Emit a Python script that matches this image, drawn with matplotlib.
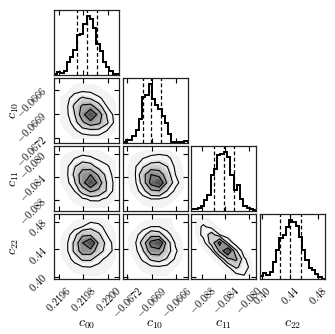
import numpy as np
import matplotlib
matplotlib.use('Agg')
import matplotlib.pyplot as plt
from matplotlib.colors import LinearSegmentedColormap

plt.rcParams['mathtext.fontset'] = 'cm'
plt.rcParams['font.family'] = 'serif'
plt.rcParams['font.serif'] = ['DejaVu Serif']

# parameters
labels = [r'$c_{00}$', r'$c_{10}$', r'$c_{11}$', r'$c_{22}$']
ranges = [(0.21956, 0.22009), (-0.067256, -0.066459), (-0.08989, -0.07868), (0.3965, 0.4906)]
tick_vals = [[0.2196, 0.2198, 0.2200], [-0.0672, -0.0669, -0.0666],
             [-0.088, -0.084, -0.080], [0.40, 0.44, 0.48]]
tick_text = [['0.2196', '0.2198', '0.2200'], ['-0.0672', '-0.0669', '-0.0666'],
             ['-0.088', '-0.084', '-0.080'], ['0.40', '0.44', '0.48']]

# 1D marginal histograms (20 bins over the range)
hist_c00 = [2, 4, 3, 6, 22, 30, 42, 68, 70, 86, 100, 94, 80, 52, 40, 22, 13, 7, 2, 1]
hist_c10 = [2, 5, 5, 12, 22, 40, 78, 82, 100, 75, 65, 58, 45, 33, 15, 2, 1, 1, 1, 3]
hist_c11 = [4, 4, 5, 9, 19, 27, 62, 72, 95, 97, 100, 92, 62, 36, 45, 21, 9, 5, 3, 2]
hist_c22 = [6, 11, 8, 13, 30, 50, 70, 75, 89, 100, 97, 90, 72, 50, 33, 19, 15, 9, 3, 1]
hists = [hist_c00, hist_c10, hist_c11, hist_c22]

# 16/50/84 quantiles
quant_c00 = [0.219745, 0.219827, 0.219913]
quant_c10 = [-0.067006, -0.066904, -0.066791]
quant_c11 = [-0.08601, -0.08429, -0.08258]
quant_c22 = [0.4256, 0.4401, 0.4557]
quants = [quant_c00, quant_c10, quant_c11, quant_c22]

# 2D densities, 8x8 cells, rows listed from top (high y) to bottom
dens_c10_c00 = [
    [0, 0, 0, 0, 0, 0, 0, 0],
    [0, 0, 0.3, 0.5, 0.4, 0.2, 0, 0],
    [0, 0.3, 1.5, 2.5, 2, 1, 0.4, 0],
    [0, 0.4, 2.5, 5, 5.5, 3, 0.8, 0.2],
    [0, 0.4, 2, 6, 10, 6, 2, 0.3],
    [0, 0.3, 1.2, 4, 6, 5, 2.5, 0.4],
    [0, 0.1, 0.6, 1.2, 1.5, 1.5, 0.8, 0.1],
    [0, 0, 0.1, 0.2, 0.2, 0.2, 0.1, 0],
]
dens_c11_c00 = [
    [0, 0, 0.1, 0.2, 0.2, 0.1, 0, 0],
    [0, 0.2, 0.8, 1.2, 1, 0.6, 0.2, 0],
    [0, 0.4, 2, 3.5, 3, 1.5, 1.0, 0.2],
    [0, 0.4, 2.5, 6, 7, 4, 1.5, 0.3],
    [0, 0.3, 1.8, 6, 10, 6, 2, 0.4],
    [0, 0.1, 0.8, 3, 5, 4, 2, 0.3],
    [0, 0, 0.2, 0.6, 1, 1, 0.6, 0.1],
    [0, 0, 0, 0.1, 0.1, 0.2, 0.1, 0],
]
dens_c11_c10 = [
    [0, 0, 0, 0.1, 0.1, 0.1, 0, 0],
    [0, 0.2, 0.8, 1.2, 1.5, 1.2, 0.2, 0],
    [0, 0.6, 2, 3, 3, 2.2, 0.5, 0],
    [0, 0.6, 3.5, 7, 6, 3, 0.8, 0.1],
    [0, 0.4, 3, 8, 10, 4, 1.2, 0.2],
    [0, 0.2, 1.5, 4, 4.5, 2, 0.5, 0],
    [0, 0, 0.3, 0.8, 0.8, 0.4, 0.1, 0],
    [0, 0, 0, 0.1, 0.2, 0, 0, 0],
]
dens_c22_c00 = [
    [0, 0, 0, 0.1, 0.2, 0.1, 0, 0],
    [0, 0, 0.3, 0.8, 1.5, 1.2, 0.3, 0],
    [0, 0.2, 1.5, 4, 4, 2.5, 0.8, 0.1],
    [0, 0.4, 2.5, 7, 10, 4, 1.5, 0.3],
    [0, 0.4, 2.5, 6, 6, 3, 1.5, 0.4],
    [0, 0.2, 1.2, 2.5, 2.5, 1.2, 0.5, 0.1],
    [0, 0, 0.3, 0.7, 0.8, 0.5, 0.2, 0],
    [0, 0, 0, 0.1, 0.1, 0.1, 0, 0],
]
dens_c22_c10 = [
    [0, 0, 0, 0, 0.1, 0.2, 0, 0],
    [0, 0, 0.3, 0.8, 0.8, 0.3, 0, 0],
    [0, 0.3, 1.5, 3.5, 3, 1.2, 0.2, 0],
    [0, 0.5, 3, 8, 10, 3, 0.6, 0],
    [0, 0.3, 2, 6, 6, 3, 1, 0],
    [0, 0.1, 1, 2.5, 3, 2, 0.6, 0],
    [0, 0, 0.2, 0.5, 0.6, 0.4, 0.1, 0],
    [0, 0, 0, 0.1, 0.2, 0.1, 0, 0],
]
dens_c22_c11 = [
    [0.1, 0.2, 0, 0, 0, 0, 0, 0],
    [0.3, 1.0, 0.3, 0, 0, 0, 0, 0],
    [0, 1.2, 3, 0.8, 0, 0, 0, 0],
    [0, 0.2, 3, 8, 2, 0, 0, 0],
    [0, 0, 0.5, 5, 10, 2.5, 0, 0],
    [0, 0, 0, 0.6, 4, 5, 1, 0],
    [0, 0, 0, 0, 0.5, 2.5, 1.5, 0.2],
    [0, 0, 0, 0, 0, 0.3, 0.8, 0.2],
]
dens = {(1, 0): dens_c10_c00, (2, 0): dens_c11_c00, (2, 1): dens_c11_c10,
        (3, 0): dens_c22_c00, (3, 1): dens_c22_c10, (3, 2): dens_c22_c11}

levels = [0.8, 2.2, 4.5, 7.0]

fig, axes = plt.subplots(4, 4, figsize=(3.35, 3.34), dpi=100)
fig.subplots_adjust(left=0.161, right=0.970, bottom=0.164, top=0.970, wspace=0.053, hspace=0.053)

gray_cmap = LinearSegmentedColormap.from_list('dens', ['#ffffff', '#4a4a4a'])

for i in range(4):
    for j in range(4):
        ax = axes[i, j]
        if j > i:
            ax.set_axis_off()
            continue
        lo, hi = ranges[j]
        if i == j:
            edges = np.linspace(lo, hi, len(hists[i]) + 1)
            ax.stairs(hists[i], edges, color='k', lw=1.4)
            for q in quants[i]:
                ax.axvline(q, color='k', ls='--', lw=0.9, dashes=(3, 2))
            ax.set_ylim(0, 1.1 * max(hists[i]))
            ax.set_yticks([])
        else:
            Z = np.flipud(np.array(dens[(i, j)], dtype=float))
            ylo, yhi = ranges[i]
            n = Z.shape[0]
            xc = lo + (np.arange(n) + 0.5) * (hi - lo) / n
            yc = ylo + (np.arange(n) + 0.5) * (yhi - ylo) / n
            ax.contourf(xc, yc, Z, [0.1, levels[0]], colors=['#f3f3f3'])
            ax.contourf(xc, yc, Z, np.linspace(levels[0], Z.max() + 1e-6, 10), cmap=gray_cmap)
            ax.contour(xc, yc, Z, levels, colors='k', linewidths=0.8)
            ax.set_ylim(ylo, yhi)
            ax.set_yticks(tick_vals[i])
        ax.set_xlim(lo, hi)
        ax.set_xticks(tick_vals[j])
        ax.tick_params(direction='in', top=True, right=(i != j), length=3.5, width=0.8)
        for s in ax.spines.values():
            s.set_linewidth(0.9)
            s.set_color('#222222')

        if i == 3:
            ax.set_xticklabels(['$' + t + '$' for t in tick_text[j]], rotation=45, fontsize=7.5)
            ax.set_xlabel(labels[j], fontsize=10)
            ax.xaxis.set_label_coords(0.5, -0.58)
        else:
            ax.set_xticklabels([])
        if j == 0 and i > 0:
            ax.set_yticklabels(['$' + t + '$' for t in tick_text[i]], rotation=45, fontsize=7.5)
            ax.set_ylabel(labels[i], fontsize=10)
            ax.yaxis.set_label_coords(-0.5, 0.5)
        elif i != j:
            ax.set_yticklabels([])

fig.savefig('out.png', dpi=100)
